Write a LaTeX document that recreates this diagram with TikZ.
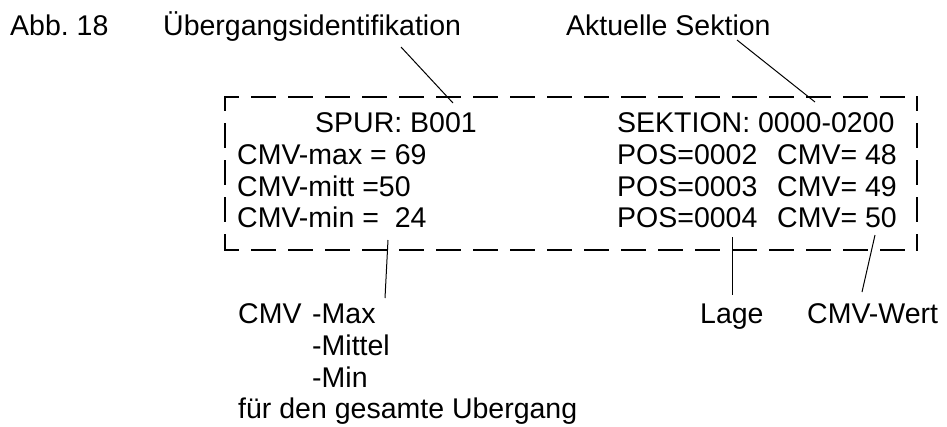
\documentclass[tikz,border=0pt]{standalone}
\usepackage{fontspec}
\setmainfont{Liberation Sans}
\usepackage{tikz}

\begin{document}
\begin{tikzpicture}[x=1pt,y=-1pt,inner sep=0pt,
  lbl/.style={anchor=base west,font=\fontsize{28.5}{32}\selectfont},
  leader/.style={line width=1.0pt},
  frame/.style={line width=2.5pt,line cap=rect,dash pattern=on 23pt off 14pt,dash phase=10pt}]
\useasboundingbox (0,0) rectangle (947,426);

\node (n0) [lbl,at={(10,35)}] {Abb.\ 18};
\node (n1) [lbl,at={(163,35)}] {Übergangsidentifikation};
\node (n2) [lbl,at={(566,35)}] {Aktuelle Sektion};

\node (n3) [lbl,at={(315,132)}] {SPUR: B001};
\node (n4) [lbl,at={(617,132)}] {SEKTION: 0000-0200};
\node (n5) [lbl,at={(237,164)}] {CMV-max = 69};
\node (n6) [lbl,at={(237,196)}] {CMV-mitt =50};
\node (n7) [lbl,at={(237,227)}] {CMV-min =\ \ 24};
\node (n8) [lbl,at={(617,164)}] {POS=0002};
\node (n9) [lbl,at={(617,196)}] {POS=0003};
\node (n10) [lbl,at={(617,227)}] {POS=0004};
\node (n11) [lbl,at={(777,164)}] {CMV= 48};
\node (n12) [lbl,at={(777,196)}] {CMV= 49};
\node (n13) [lbl,at={(777,227)}] {CMV= 50};

\node (n14) [lbl,at={(238,323)}] {CMV};
\node (n15) [lbl,at={(312,323)}] {-Max};
\node (n16) [lbl,at={(312,355)}] {-Mittel};
\node (n17) [lbl,at={(312,387)}] {-Min};
\node (n18) [lbl,at={(238,418)}] {für den gesamte Ubergang};
\node (n19) [lbl,at={(700,323)}] {Lage};
\node (n20) [lbl,at={(807,323)}] {CMV-Wert};

% frame
\coordinate (b0) at (225,97);
\coordinate (b1) at (917,97);
\coordinate (b2) at (917,250);
\coordinate (b3) at (225,250);
\draw [frame] (b0) -- (b1);
\draw [frame] (b1) -- (b2);
\draw [frame] (b3) -- (b2);
\draw [frame] (b0) -- (b3);

% leaders
\coordinate (c0) at (401,47);
\coordinate (c1) at (453,103);
\coordinate (c2) at (737,40);
\coordinate (c3) at (815,102);
\coordinate (c4) at (388,240);
\coordinate (c5) at (385,298);
\coordinate (c6) at (732,237);
\coordinate (c7) at (732,295);
\coordinate (c8) at (875,235);
\coordinate (c9) at (862,292);
\path [-,leader,draw] (c0) -- (c1);
\path [-,leader,draw] (c2) -- (c3);
\path [-,leader,draw] (c4) -- (c5);
\path [-,leader,draw] (c6) -- (c7);
\path [-,leader,draw] (c8) -- (c9);
\end{tikzpicture}
\end{document}
